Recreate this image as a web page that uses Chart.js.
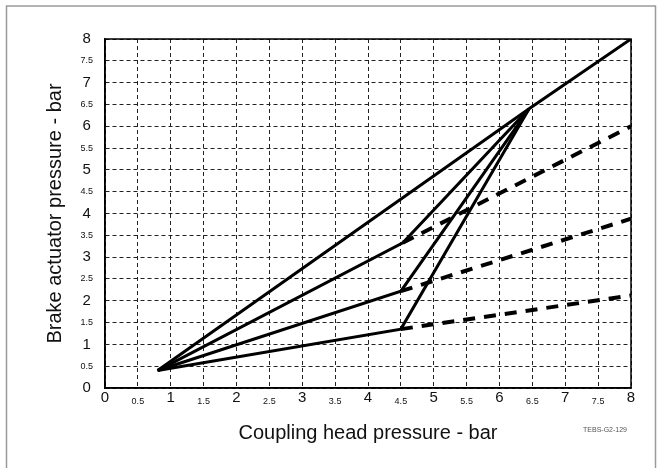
<!DOCTYPE html>
<html>
<head>
<meta charset="utf-8">
<script src="https://cdn.jsdelivr.net/npm/chart.js@4.4.1/dist/chart.umd.min.js"></script>
<style>
  body { margin: 0; background: #fff; }
  #wrap { position: relative; width: 662px; height: 468px; }
</style>
</head>
<body>
<div id="wrap"><canvas id="pressureChart" width="662" height="468"></canvas></div>
<script>
// axis range and tick step (bar)
var axisMin = 0;
var axisMax = 8;
var tickStep = 0.5;

// full-load line, straight up to the 1:1 diagonal
var fullX = [0.8, 6.45, 8];
var fullY = [0.4, 6.4, 8];

// three reduced-load lines, knee at 4.5 bar then up to the common point
var loadAX = [0.8, 4.53, 6.45];
var loadAY = [0.4, 3.33, 6.4];
var loadBX = [0.8, 4.5, 6.45];
var loadBY = [0.4, 2.22, 6.4];
var loadCX = [0.8, 4.5, 6.45];
var loadCY = [0.4, 1.35, 6.4];

// dashed continuations past the knee
var dashAX = [4.53, 8];
var dashAY = [3.33, 6.0];
var dashBX = [4.5, 8];
var dashBY = [2.22, 3.88];
var dashCX = [4.5, 8];
var dashCY = [1.35, 2.12];

var drawingRef = 'TEBS-G2-129';
var fontFamily = '"Liberation Sans", Arial, Helvetica, sans-serif';

function toPoints(xs, ys) {
    var pts = [];
    for (var i = 0; i < xs.length; i++) {
        pts.push({ x: xs[i], y: ys[i] });
    }
    return pts;
}

function solidLine(xs, ys) {
    return {
        data: toPoints(xs, ys),
        borderColor: '#000',
        borderWidth: 3,
        borderJoinStyle: 'miter',
        pointRadius: 0,
        tension: 0
    };
}

function dashedLine(xs, ys) {
    return {
        data: toPoints(xs, ys),
        borderColor: '#000',
        borderWidth: 4,
        borderDash: [12, 9],
        pointRadius: 0,
        tension: 0
    };
}

// integer ticks big, half ticks small
function tickFont(c) {
    var whole = c.tick && c.tick.value % 1 === 0;
    return { family: fontFamily, size: whole ? 15 : 9 };
}

function tickLabel(v) {
    return String(v);
}

// page frame, plot box and drawing number
var frame = {
    id: 'frame',
    beforeDraw: function(chart) {
        var ctx = chart.ctx;
        ctx.save();
        ctx.fillStyle = '#fff';
        ctx.fillRect(0, 0, chart.width, chart.height);
        ctx.strokeStyle = '#9a9a9a';
        ctx.lineWidth = 1.5;
        ctx.beginPath();
        ctx.moveTo(6.5, chart.height);
        ctx.lineTo(6.5, 6);
        ctx.lineTo(655.5, 6);
        ctx.lineTo(655.5, chart.height);
        ctx.stroke();
        ctx.restore();
    },
    beforeDatasetsDraw: function(chart) {
        var a = chart.chartArea;
        var ctx = chart.ctx;
        ctx.save();
        ctx.strokeStyle = '#000';
        ctx.lineWidth = 1.5;
        ctx.strokeRect(a.left, a.top, a.right - a.left, a.bottom - a.top);
        ctx.restore();
    },
    afterDraw: function(chart) {
        var ctx = chart.ctx;
        ctx.save();
        ctx.fillStyle = '#555';
        ctx.font = '7px ' + fontFamily;
        ctx.textAlign = 'right';
        ctx.textBaseline = 'middle';
        ctx.fillText(drawingRef, chart.chartArea.right - 4, 430);
        ctx.restore();
    }
};

var ctxc = document.getElementById('pressureChart').getContext('2d');
var pressureChart = new Chart(ctxc, {
    type: 'line',
    data: {
        datasets: [
            solidLine(fullX, fullY),
            solidLine(loadAX, loadAY),
            solidLine(loadBX, loadBY),
            solidLine(loadCX, loadCY),
            dashedLine(dashAX, dashAY),
            dashedLine(dashBX, dashBY),
            dashedLine(dashCX, dashCY)
        ]
    },
    options: {
        responsive: false,
        animation: false,
        layout: { padding: { left: 0, top: 39, right: 31, bottom: 0 } },
        plugins: {
            legend: { display: false },
            tooltip: { enabled: false }
        },
        scales: {
            x: {
                type: 'linear',
                min: axisMin,
                max: axisMax,
                afterFit: function(s) { s.height = 80; },
                ticks: {
                    stepSize: tickStep,
                    autoSkip: false,
                    maxRotation: 0,
                    crossAlign: 'center',
                    padding: 10,
                    color: '#111',
                    font: tickFont,
                    callback: tickLabel
                },
                grid: { color: '#222', lineWidth: 1, drawTicks: false, borderDash: [4, 3] },
                border: { display: true, color: '#000', width: 1.5, dash: [4, 3] },
                title: {
                    display: true,
                    text: 'Coupling head pressure - bar',
                    color: '#111',
                    font: { family: fontFamily, size: 20 },
                    padding: { top: 0, bottom: 23 }
                }
            },
            y: {
                type: 'linear',
                min: axisMin,
                max: axisMax,
                afterFit: function(s) { s.width = 105; },
                ticks: {
                    stepSize: tickStep,
                    autoSkip: false,
                    crossAlign: 'center',
                    padding: 12,
                    color: '#111',
                    font: tickFont,
                    callback: tickLabel
                },
                grid: { color: '#222', lineWidth: 1, drawTicks: false, borderDash: [4, 3] },
                border: { display: true, color: '#000', width: 1.5, dash: [4, 3] },
                title: {
                    display: true,
                    text: 'Brake actuator pressure - bar',
                    color: '#111',
                    font: { family: fontFamily, size: 20 },
                    padding: { top: 43, bottom: 0 }
                }
            }
        }
    },
    plugins: [frame]
});
</script>
</body>
</html>
